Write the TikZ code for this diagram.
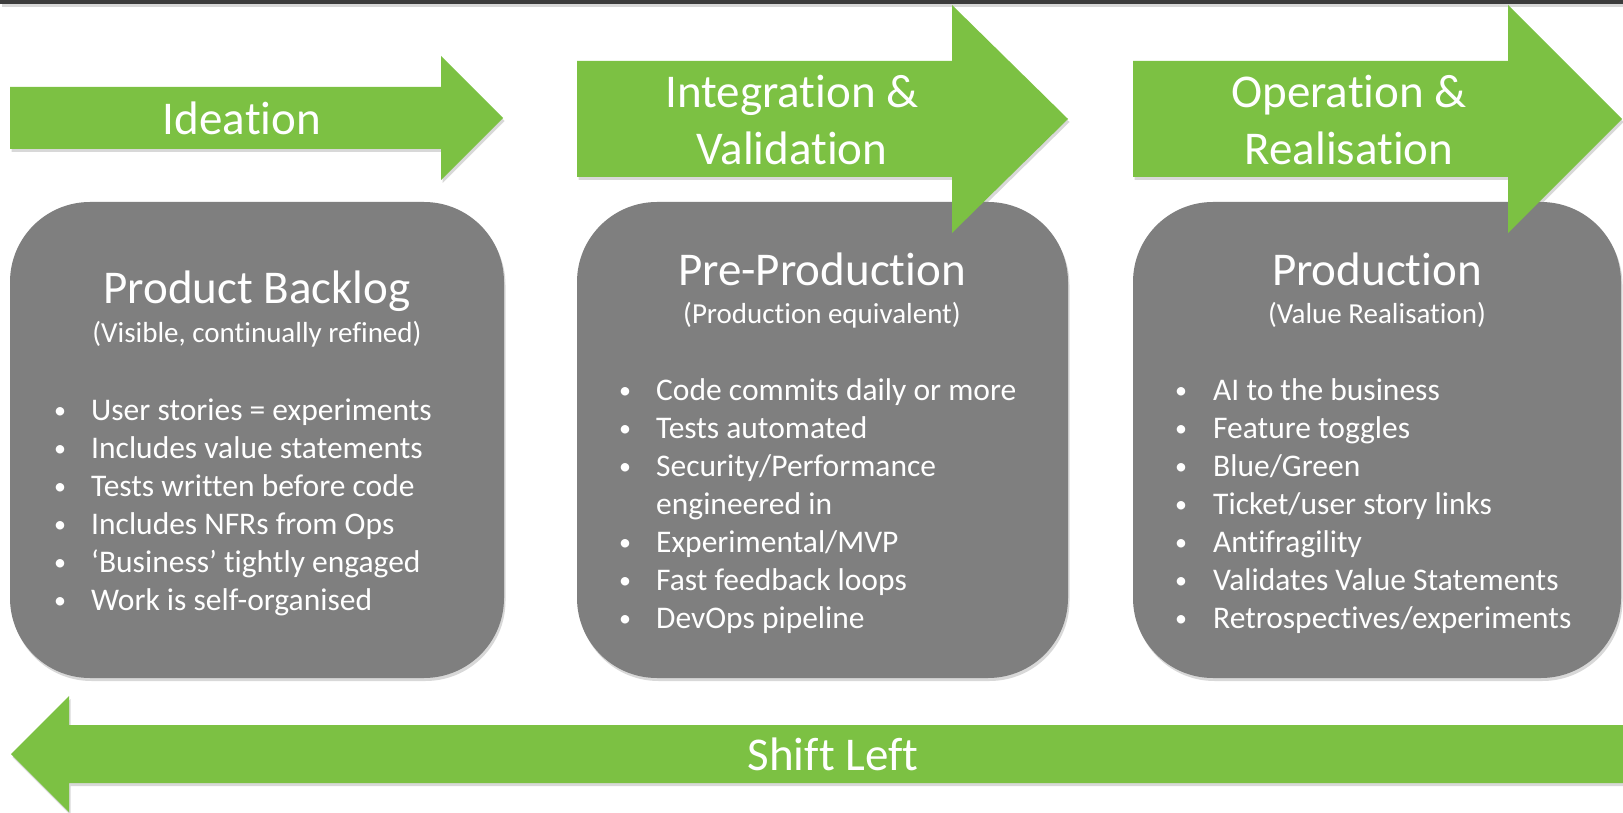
\documentclass[tikz,border=0pt]{standalone}
\usepackage{fontspec}
\setmainfont{Carlito}[RawFeature={-liga;-clig;-calt;-dlig}]
\usetikzlibrary{shadows}
\definecolor{leafgreen}{HTML}{7CC143}
\definecolor{boxgrey}{HTML}{7F7F7F}
\definecolor{topbar}{HTML}{3C3C3C}
\tikzset{
    softshadow/.style={drop shadow={opacity=0.3,shadow xshift=1.5pt,shadow yshift=-3pt}},
    greenarrow/.style={fill=leafgreen,softshadow},
    stagebox/.style={fill=boxgrey,rounded corners=80pt,softshadow},
    phase/.style={font=\fontsize{47}{57}\selectfont,align=center},
    boxtitle/.style={font=\fontsize{47}{57}\selectfont,anchor=base},
    boxsub/.style={font=\fontsize{29}{35}\selectfont,anchor=base},
    bulletmark/.style={font=\fontsize{24}{30}\selectfont,anchor=base},
    itemtext/.style={font=\fontsize{31.5}{38}\selectfont,anchor=base west},
}

\begin{document}
\begin{tikzpicture}[x=1pt,y=-1pt,every node/.style={text=white,inner sep=0pt}]
    \useasboundingbox (0,0) rectangle (1623,813);
    \fill[white] (0,0) rectangle (1623,813);
    \fill[topbar,softshadow] (0,0) rectangle (1623,4.5);

    % stage boxes
    \path[stagebox] (10,202) rectangle (504,678);
    \path[stagebox] (577,202) rectangle (1068,678);
    \path[stagebox] (1133,202) rectangle (1621,678);

    % phase arrows
    \path[greenarrow] (10,87) -- (441,87) -- (441,56) -- (503,118)
        -- (441,180) -- (441,149) -- (10,149) -- cycle;
    \path[greenarrow] (577,61) -- (952,61) -- (952,5) -- (1068,119)
        -- (952,233) -- (952,177) -- (577,177) -- cycle;
    \path[greenarrow] (1133,61) -- (1508,61) -- (1508,5) -- (1622,119)
        -- (1508,233) -- (1508,177) -- (1133,177) -- cycle;
    \path[greenarrow] (1623,725) -- (69,725) -- (69,696) -- (11,754)
        -- (69,812) -- (69,783) -- (1623,783) -- cycle;

    \node[phase] (ideation) at (242,118) {Ideation};
    \node[phase] (integration) at (792,120) {Integration \&\\Validation};
    \node[phase] (operation) at (1349,120) {Operation \&\\Realisation};
    \node[phase] (shiftleft) at (833,754) {Shift Left};

    % product backlog
    \node[boxtitle] (backlog) at (257,303) {Product Backlog};
    \node[boxsub] (backlog-sub) at (257,342) {(Visible, continually refined)};
    \foreach \txt [count=\i from 0] in {User stories = experiments,
        Includes value statements,Tests written before code,
        Includes NFRs from Ops,‘Business’ tightly engaged,Work is self-organised} {
        \node[bulletmark] (bl-dot-\i) at (60,418+38*\i) {\textbullet};
        \node[itemtext] (bl-\i) at (91,420+38*\i) {\txt};
    }

    % pre-production
    \node[boxtitle] (preprod) at (822,285) {Pre-Production};
    \node[boxsub] (preprod-sub) at (822,323) {(Production equivalent)};
    \foreach \i in {0,1,2,4,5,6}
        \node[bulletmark] (pp-dot-\i) at (625,398+38*\i) {\textbullet};
    \foreach \txt [count=\i from 0] in {Code commits daily or more,
        Tests automated,Security/Performance,engineered in,
        Experimental/MVP,Fast feedback loops,DevOps pipeline}
        \node[itemtext] (pp-\i) at (656,400+38*\i) {\txt};

    % production
    \node[boxtitle] (prod) at (1377,285) {Production};
    \node[boxsub] (prod-sub) at (1377,323) {(Value Realisation)};
    \foreach \txt [count=\i from 0] in {AI to the business,Feature toggles,
        Blue/Green,Ticket/user story links,Antifragility,
        Validates Value Statements,Retrospectives/experiments} {
        \node[bulletmark] (pr-dot-\i) at (1181,398+38*\i) {\textbullet};
        \node[itemtext] (pr-\i) at (1213,400+38*\i) {\txt};
    }
\end{tikzpicture}
\end{document}
